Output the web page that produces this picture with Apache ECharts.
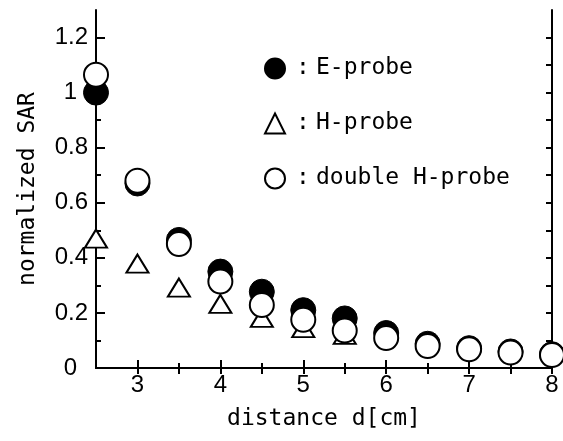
<!DOCTYPE html>
<html>
<head>
<meta charset="utf-8">
<script src="https://cdn.jsdelivr.net/npm/echarts@6/dist/echarts.min.js"></script>
<style>
  html, body { margin: 0; padding: 0; background: #fff; }
  #main { width: 563px; height: 441px; }
</style>
</head>
<body>
<div id="main"></div>
<script>
const distances = [2.5, 3, 3.5, 4, 4.5, 5, 5.5, 6, 6.5, 7, 7.5, 8];
const eProbe = [1.0, 0.67, 0.465, 0.35, 0.277, 0.21, 0.18, 0.127, 0.088, 0.072, 0.06, 0.05];
const hProbe = [0.47, 0.379, 0.292, 0.233, 0.182, 0.145, 0.12];
const doubleH = [1.065, 0.68, 0.45, 0.314, 0.229, 0.175, 0.136, 0.109, 0.08, 0.068, 0.056, 0.047];

const xMajor = [3, 4, 5, 6, 7, 8];
const xMinor = [3.5, 4.5, 5.5, 6.5, 7.5];
const yMajor = [0, 0.2, 0.4, 0.6, 0.8, 1, 1.2];
const yMinor = [0.1, 0.3, 0.5, 0.7, 0.9, 1.1];

const pair = (ys) => ys.map((y, i) => [distances[i], y]);

const mono = 'DejaVu Sans Mono';
const sans = 'Liberation Sans';
const line = { show: true, lineStyle: { color: '#000', width: 2 } };
const tick = (vals, len) => ({ show: true, inside: true, length: len, customValues: vals, lineStyle: { color: '#000', width: 2 } });

const myChart = echarts.init(document.getElementById('main'));

const option = {
  animation: false,
  backgroundColor: '#fff',
  grid: { left: 96, right: 11, top: 10, bottom: 73 },
  legend: {
    orient: 'vertical',
    left: 259,
    top: 52,
    itemWidth: 20,
    itemHeight: 20,
    itemGap: 32,
    formatter: (name) => '{c|:}' + name,
    textStyle: {
      fontFamily: mono, fontSize: 23, color: '#000',
      rich: { c: { width: 26, align: 'right', fontFamily: mono, fontSize: 23, color: '#000' } }
    },
    data: ['E-probe', 'H-probe', 'double H-probe']
  },
  xAxis: [
    {
      type: 'value', min: 2.5, max: 8, interval: 0.5, position: 'bottom',
      axisLine: line,
      axisTick: tick(xMajor, 8),
      axisLabel: {
        color: '#000', fontFamily: sans, fontSize: 24, margin: 5,
        formatter: (v) => (xMajor.includes(v) ? String(v) : '')
      },
      splitLine: { show: false },
      name: 'distance d[cm]', nameLocation: 'middle', nameGap: 40,
      nameTextStyle: { fontFamily: mono, fontSize: 23, color: '#000' }
    },
    {
      type: 'value', min: 2.5, max: 8, position: 'bottom',
      axisLine: { show: false },
      axisTick: tick(xMinor, 5),
      axisLabel: { show: false },
      splitLine: { show: false }
    },
    {
      type: 'value', min: 2.5, max: 8, position: 'top',
      axisLine: line,
      axisTick: tick(xMajor.concat(xMinor), 6),
      axisLabel: { show: false },
      splitLine: { show: false }
    }
  ],
  yAxis: [
    {
      type: 'value', min: 0, max: 1.3, interval: 0.2, position: 'left',
      axisLine: line,
      axisTick: tick(yMajor, 9),
      axisLabel: {
        color: '#000', fontFamily: sans, fontSize: 24, margin: 8, showMaxLabel: false,
        formatter: (v) => {
          if (v > 1.25) return '';
          const s = String(+v.toFixed(1));
          return s.includes('.') ? s : '{i|' + s + '}';
        },
        rich: { i: { fontFamily: sans, fontSize: 24, color: '#000', padding: [0, 11, 0, 0] } }
      },
      splitLine: { show: false },
      name: 'normalized SAR', nameLocation: 'middle', nameGap: 56, nameRotate: 90,
      nameTextStyle: { fontFamily: mono, fontSize: 23, color: '#000' }
    },
    {
      type: 'value', min: 0, max: 1.3, position: 'left',
      axisLine: { show: false },
      axisTick: tick(yMinor, 5),
      axisLabel: { show: false },
      splitLine: { show: false }
    },
    {
      type: 'value', min: 0, max: 1.3, position: 'right',
      axisLine: line,
      axisTick: tick(yMajor.concat(yMinor), 6),
      axisLabel: { show: false },
      splitLine: { show: false }
    }
  ],
  series: [
    {
      name: 'H-probe', type: 'scatter', clip: false,
      symbol: 'triangle', symbolSize: [22, 18],
      itemStyle: { color: '#fff', borderColor: '#000', borderWidth: 2, opacity: 1 },
      data: pair(hProbe),
      z: 2
    },
    {
      name: 'E-probe', type: 'scatter', clip: false,
      symbol: 'circle', symbolSize: 25,
      itemStyle: { color: '#000', borderColor: '#000', borderWidth: 1, opacity: 1 },
      data: pair(eProbe),
      z: 3
    },
    {
      name: 'double H-probe', type: 'scatter', clip: false,
      symbol: 'circle', symbolSize: 24,
      itemStyle: { color: '#fff', borderColor: '#000', borderWidth: 2, opacity: 1 },
      data: pair(doubleH),
      z: 4
    }
  ]
};

myChart.setOption(option);
</script>
</body>
</html>
